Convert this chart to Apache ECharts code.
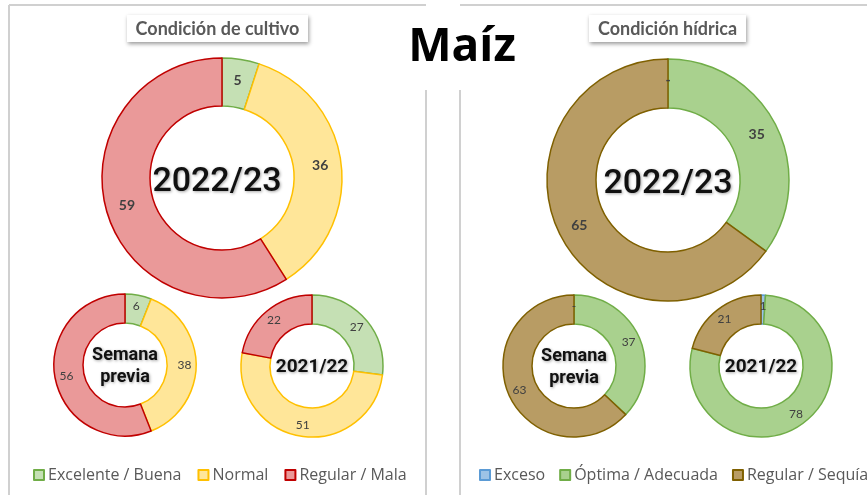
<!DOCTYPE html>
<html>
<head>
<meta charset="utf-8">
<script src="https://cdn.jsdelivr.net/npm/echarts@6/dist/echarts.min.js"></script>
<style>
  html, body { margin: 0; padding: 0; background: #fff; }
  #chart { width: 867px; height: 495px; }
</style>
</head>
<body>
<div id="chart"></div>
<script>
// condición de cultivo
const cultivoNames = ['Excelente / Buena', 'Normal', 'Regular / Mala']
const cultivo2223 = [5, 36, 59]
const cultivoPrevia = [6, 38, 56]
const cultivo2122 = [27, 51, 22]

// condición hídrica
const hidricaNames = ['Exceso', 'Óptima / Adecuada', 'Regular / Sequía']
const hidrica2223 = [0, 35, 65]
const hidricaPrevia = [0, 37, 63]
const hidrica2122 = [1, 78, 21]

const cultivoColors = [
  { fill: '#c5e0b4', border: '#70ad47' },
  { fill: '#ffe699', border: '#ffc000' },
  { fill: '#ea9999', border: '#c00000' },
]
const hidricaColors = [
  { fill: '#9dc3e6', border: '#5b9bd5' },
  { fill: '#a9d18e', border: '#70ad47' },
  { fill: '#b89c64', border: '#7f6000' },
]

function pieData(names, values, colors) {
  return values.map((v, i) => ({
    name: names[i],
    value: v,
    itemStyle: { color: colors[i].fill, borderColor: colors[i].border, borderWidth: 1.5 },
  }))
}

function donut(center, radius, names, values, colors, big) {
  return {
    type: 'pie',
    center: center,
    radius: radius,
    startAngle: 90,
    clockwise: true,
    silent: true,
    avoidLabelOverlap: false,
    label: {
      show: true,
      position: 'inside',
      formatter: (p) => (p.value === 0 ? '-' : String(p.value)),
      color: '#404040',
      fontFamily: 'Lato',
      fontWeight: big ? 'bold' : 'normal',
      fontSize: big ? 14 : 12,
    },
    labelLine: { show: false },
    emphasis: { disabled: true },
    data: pieData(names, values, colors),
  }
}

function centerText(x, y, text, size, weight) {
  return {
    type: 'text',
    x: x,
    y: y,
    style: {
      text: text,
      font: weight + ' ' + size + 'px Roboto',
      fill: '#111',
      textAlign: 'center',
      textVerticalAlign: 'middle',
      lineHeight: size + 4,
      textShadowColor: 'rgba(0,0,0,0.35)',
      textShadowBlur: 3,
      textShadowOffsetX: 1,
      textShadowOffsetY: 1,
    },
  }
}

function titleBox(x, y, w, h, text) {
  return [
    {
      type: 'rect',
      shape: { x: x, y: y, width: w, height: h },
      style: {
        fill: '#fff',
        shadowColor: 'rgba(0,0,0,0.4)',
        shadowBlur: 4,
        shadowOffsetX: 1,
        shadowOffsetY: 2,
      },
    },
    {
      type: 'text',
      x: x + w / 2,
      y: y + h / 2 + 1,
      style: {
        text: text,
        font: 'bold 18px Lato',
        fill: '#595959',
        textAlign: 'center',
        textVerticalAlign: 'middle',
      },
    },
  ]
}

const lineStyle = { stroke: '#d0d0d0', lineWidth: 2 }

const legendText = { fontFamily: 'Open Sans', fontSize: 16, color: '#595959', padding: [0, 0, 0, -1] }

const option = {
  backgroundColor: '#fff',
  animation: false,
  legend: [
    {
      data: cultivoNames,
      left: 28,
      top: 462,
      width: 420,
      icon: 'rect',
      itemWidth: 10,
      itemHeight: 10,
      itemGap: 16,
      textStyle: legendText,
      itemStyle: { borderWidth: 2 },
    },
    {
      data: hidricaNames,
      left: 474,
      top: 462,
      width: 440,
      icon: 'rect',
      itemWidth: 10,
      itemHeight: 10,
      itemGap: 14,
      textStyle: legendText,
      itemStyle: { borderWidth: 2 },
    },
  ],
  graphic: [
    // panel borders
    { type: 'line', shape: { x1: 9, y1: 5, x2: 426, y2: 5 }, style: lineStyle },
    { type: 'line', shape: { x1: 9, y1: 5, x2: 9, y2: 495 }, style: lineStyle },
    { type: 'line', shape: { x1: 426, y1: 90, x2: 426, y2: 495 }, style: lineStyle },
    { type: 'line', shape: { x1: 460, y1: 5, x2: 867, y2: 5 }, style: lineStyle },
    { type: 'line', shape: { x1: 460, y1: 90, x2: 460, y2: 495 }, style: lineStyle },
    // main title
    {
      type: 'text',
      x: 462,
      y: 48,
      style: {
        text: 'Maíz',
        font: 'bold 46px "Open Sans"',
        fill: '#000',
        textAlign: 'center',
        textVerticalAlign: 'middle',
      },
    },
    ...titleBox(127, 15, 181, 27, 'Condición de cultivo'),
    ...titleBox(589, 15, 157, 27, 'Condición hídrica'),
    centerText(217, 182, '2022/23', 34, 500),
    centerText(668, 184, '2022/23', 34, 500),
    centerText(125, 366, 'Semana\nprevia', 18, 'bold'),
    centerText(312, 367, '2021/22', 19, 'bold'),
    centerText(574, 367, 'Semana\nprevia', 18, 'bold'),
    centerText(761, 367, '2021/22', 19, 'bold'),
  ],
  series: [
    donut([222, 178], [72, 120], cultivoNames, cultivo2223, cultivoColors, true),
    donut([125, 365], [42, 71], cultivoNames, cultivoPrevia, cultivoColors, false),
    donut([312, 366], [42, 71], cultivoNames, cultivo2122, cultivoColors, false),
    donut([668, 180], [72, 121], hidricaNames, hidrica2223, hidricaColors, true),
    donut([574, 366], [42, 71], hidricaNames, hidricaPrevia, hidricaColors, false),
    donut([761, 366], [42, 71], hidricaNames, hidrica2122, hidricaColors, false),
  ],
}

const chart = echarts.init(document.getElementById('chart'), null, { renderer: 'canvas' })
chart.setOption(option)
</script>
</body>
</html>
